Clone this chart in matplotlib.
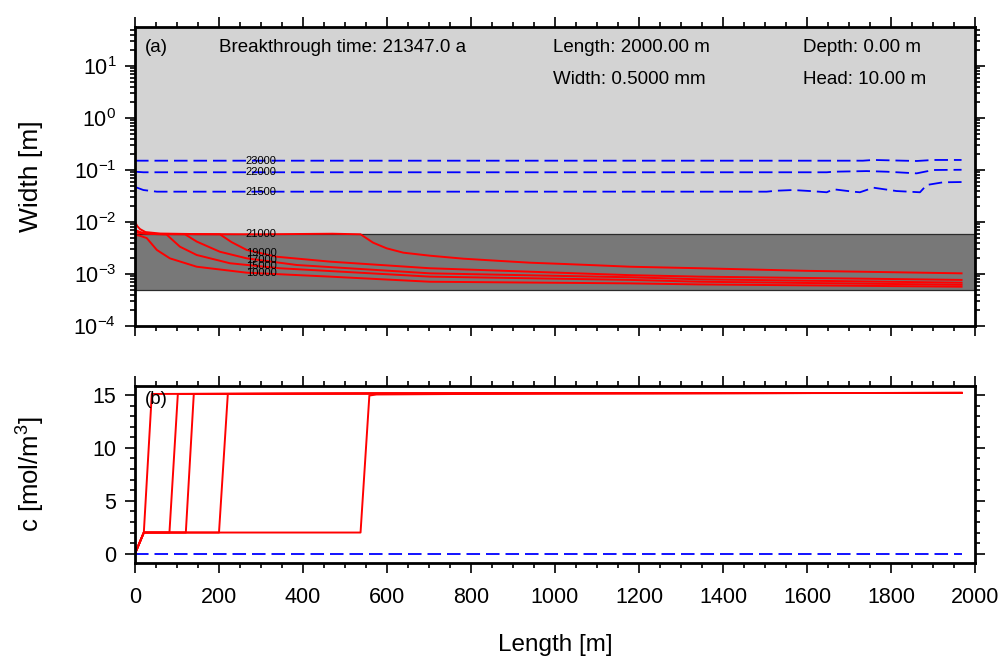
import numpy as np
import matplotlib
matplotlib.use("Agg")
import matplotlib.pyplot as plt
from matplotlib.ticker import LogLocator, NullFormatter, FuncFormatter, MultipleLocator

plt.rcParams['font.family'] = ['Liberation Sans', 'DejaVu Sans']
plt.rcParams['mathtext.fontset'] = 'custom'
plt.rcParams['mathtext.rm'] = 'Liberation Sans'
plt.rcParams['mathtext.it'] = 'Liberation Sans:italic'
plt.rcParams['mathtext.bf'] = 'Liberation Sans:bold'

# ---------------- data ----------------
# Panel (a): aperture width [m] along the fracture, before breakthrough (red)
times_red = ["10000", "15000", "17000", "19000", "21000"]
x_10000 = [0, 10, 28, 52, 83, 147, 266, 464, 702, 1179, 1345, 1968]
w_10000 = [5.6e-3, 5.5e-3, 4.9e-3, 2.9e-3, 2.0e-3, 1.38e-3, 1.06e-3, 8.9e-4, 7.1e-4, 6.6e-4, 6.3e-4, 5.7e-4]
x_15000 = [0, 20, 75, 107, 147, 226, 345, 702, 1179, 1345, 1968]
w_15000 = [6.3e-3, 6.0e-3, 5.75e-3, 3.35e-3, 2.32e-3, 1.61e-3, 1.29e-3, 8.9e-4, 7.7e-4, 7.1e-4, 6.2e-4]
x_17000 = [0, 20, 50, 119, 147, 202, 266, 385, 702, 1179, 1345, 1968]
w_17000 = [6.6e-3, 6.1e-3, 5.85e-3, 5.8e-3, 4.2e-3, 2.68e-3, 2.0e-3, 1.49e-3, 1.03e-3, 8.65e-4, 7.9e-4, 6.8e-4]
x_19000 = [0, 15, 40, 202, 230, 266, 337, 464, 702, 1179, 1345, 1968]
w_19000 = [7.0e-3, 6.3e-3, 5.9e-3, 5.8e-3, 4.1e-3, 2.9e-3, 2.15e-3, 1.73e-3, 1.29e-3, 9.5e-4, 8.9e-4, 7.7e-4]
x_21000 = [0, 5, 12, 25, 60, 150, 300, 470, 537, 567, 599, 639, 702, 782, 861, 940, 1020, 1099, 1179, 1345, 1600, 1968]
w_21000 = [1.01e-2, 8.4e-3, 7.3e-3, 6.4e-3, 6.0e-3, 5.85e-3, 5.8e-3, 5.95e-3, 5.8e-3, 4.0e-3, 3.12e-3, 2.57e-3,
           2.25e-3, 1.97e-3, 1.80e-3, 1.65e-3, 1.56e-3, 1.47e-3, 1.38e-3, 1.29e-3, 1.15e-3, 1.03e-3]

# Panel (a): after breakthrough (blue dashed)
times_blue = ["21500", "22000", "23000"]
x_21500 = [0, 4, 20, 52, 1504, 1528, 1567, 1607, 1647, 1663, 1710, 1726, 1758, 1813, 1869, 1885, 1924, 1968]
w_21500 = [0.046, 0.046, 0.0412, 0.0383, 0.0383, 0.040, 0.0412, 0.0394, 0.0373, 0.0426, 0.0383, 0.0373,
           0.0457, 0.0394, 0.0373, 0.0515, 0.058, 0.0587]
x_22000 = [0, 20, 1647, 1663, 1742, 1790, 1861, 1901, 1968]
w_22000 = [0.0927, 0.0904, 0.0904, 0.0927, 0.0953, 0.0927, 0.0862, 0.100, 0.101]
x_23000 = [0, 1733, 1758, 1861, 1901, 1968]
w_23000 = [0.151, 0.151, 0.156, 0.149, 0.156, 0.156]

# Panel (b): concentration c [mol/m3]
c_x_10000 = [0, 21, 40, 600, 1968]
c_v_10000 = [0, 2.0, 15.1, 15.15, 15.2]
c_x_15000 = [0, 21, 82, 102, 600, 1968]
c_v_15000 = [0, 2.0, 2.0, 15.1, 15.15, 15.2]
c_x_17000 = [0, 21, 121, 140, 600, 1968]
c_v_17000 = [0, 2.0, 2.0, 15.1, 15.15, 15.2]
c_x_19000 = [0, 21, 200, 221, 600, 1968]
c_v_19000 = [0, 2.0, 2.0, 15.1, 15.15, 15.2]
c_x_21000 = [0, 21, 537, 558, 575, 1000, 1968]
c_v_21000 = [0, 2.0, 2.0, 14.95, 15.05, 15.15, 15.2]
c_x_blue = [0, 1968]
c_v_blue = [0, 0]

# shaded width bands in panel (a)
band_low = 5.0e-4
band_high = 5.8e-3

label_x = 300  # contour-label position along the fracture

info_texts = ["Breakthrough time: 21347.0 a", "Length: 2000.00 m", "Width: 0.5000 mm",
              "Depth: 0.00 m", "Head: 10.00 m"]

# ---------------- figure ----------------
W, H = 1001, 661
fig = plt.figure(figsize=(W / 100, H / 100), dpi=100)
ax1 = fig.add_axes([135 / W, 1 - 326 / H, 840 / W, 299 / H])
ax2 = fig.add_axes([135 / W, 1 - 563 / H, 840 / W, 177.3 / H])

red = '#ff0000'
blue = '#0000ff'
red_lw = 1.4
blue_lw = 1.3
dash = (7.5, 3.3)

ymin1, ymax1 = 1e-4, 10 ** 1.75
ax1.set_yscale('log')
ax1.set_xlim(0, 2000)
ax1.set_ylim(ymin1, ymax1)
ax1.axhspan(band_high, ymax1, facecolor='#d3d3d3', edgecolor='none', zorder=0)
ax1.axhspan(band_low, band_high, facecolor='#787878', edgecolor='#2a2a2a', linewidth=0.9, zorder=0.5)

red_sets = [(x_10000, w_10000), (x_15000, w_15000), (x_17000, w_17000),
            (x_19000, w_19000), (x_21000, w_21000)]
blue_sets = [(x_21500, w_21500), (x_22000, w_22000), (x_23000, w_23000)]

for (xs, ws) in red_sets:
    ax1.plot(xs, ws, color=red, lw=red_lw, zorder=3)
for (xs, ws) in blue_sets:
    ax1.plot(xs, ws, color=blue, lw=blue_lw, dashes=dash, zorder=3)

for name, (xs, ws) in zip(times_red + times_blue, red_sets + blue_sets):
    yv = 10 ** np.interp(label_x, xs, np.log10(ws))
    ax1.text(label_x, yv, name, fontsize=8, ha='center', va='center', color='black', zorder=4)

ax1.yaxis.set_major_locator(LogLocator(base=10, numticks=20))
ax1.yaxis.set_minor_locator(LogLocator(base=10, subs=np.arange(2, 10), numticks=20))
ax1.yaxis.set_minor_formatter(NullFormatter())
ax1.yaxis.set_major_formatter(FuncFormatter(lambda v, p: r'$\mathregular{10^{%d}}$' % int(round(np.log10(v)))))
ax1.xaxis.set_major_locator(MultipleLocator(200))
ax1.xaxis.set_minor_locator(MultipleLocator(50))
ax1.tick_params(axis='x', labelbottom=False)

ax1.text(0.012, 0.93, "(a)", transform=ax1.transAxes, fontsize=13.5, va='center', ha='left')
ax1.text(0.10, 0.93, info_texts[0], transform=ax1.transAxes, fontsize=13.5, va='center', ha='left')
ax1.text(0.4976, 0.93, info_texts[1], transform=ax1.transAxes, fontsize=13.5, va='center', ha='left')
ax1.text(0.4976, 0.823, info_texts[2], transform=ax1.transAxes, fontsize=13.5, va='center', ha='left')
ax1.text(0.795, 0.93, info_texts[3], transform=ax1.transAxes, fontsize=13.5, va='center', ha='left')
ax1.text(0.795, 0.823, info_texts[4], transform=ax1.transAxes, fontsize=13.5, va='center', ha='left')
ax1.set_ylabel("Width [m]", fontsize=19)
ax1.yaxis.set_label_coords(-0.11, 0.5)

# panel b
ax2.set_xlim(0, 2000)
ax2.set_ylim(-0.88, 15.88)
for xs, cs in [(c_x_10000, c_v_10000), (c_x_15000, c_v_15000), (c_x_17000, c_v_17000),
               (c_x_19000, c_v_19000), (c_x_21000, c_v_21000)]:
    ax2.plot(xs, cs, color=red, lw=red_lw, zorder=3)
ax2.plot(c_x_blue, c_v_blue, color=blue, lw=blue_lw, dashes=dash, zorder=3)
ax2.yaxis.set_major_locator(MultipleLocator(5))
ax2.yaxis.set_minor_locator(MultipleLocator(1))
ax2.xaxis.set_major_locator(MultipleLocator(200))
ax2.xaxis.set_minor_locator(MultipleLocator(50))
ax2.text(0.012, 0.92, "(b)", transform=ax2.transAxes, fontsize=13.5, va='center', ha='left', zorder=5)
ax2.set_ylabel(r"c [mol/m$^\mathregular{3}$]", fontsize=18.5)
ax2.yaxis.set_label_coords(-0.105, 0.5)
ax2.set_xlabel("Length [m]", fontsize=17.5)
ax2.xaxis.set_label_coords(0.5, -0.40)

for ax in (ax1, ax2):
    for s in ax.spines.values():
        s.set_linewidth(2.0)
        s.set_zorder(6)
    ax.tick_params(which='both', direction='out', top=True, right=True, width=1.2, labelsize=15.5)
    ax.tick_params(which='major', length=7.5, pad=6)
    ax.tick_params(which='minor', length=3.8)
ax2.tick_params(axis='x', pad=10)

fig.savefig("out.png", dpi=100)
